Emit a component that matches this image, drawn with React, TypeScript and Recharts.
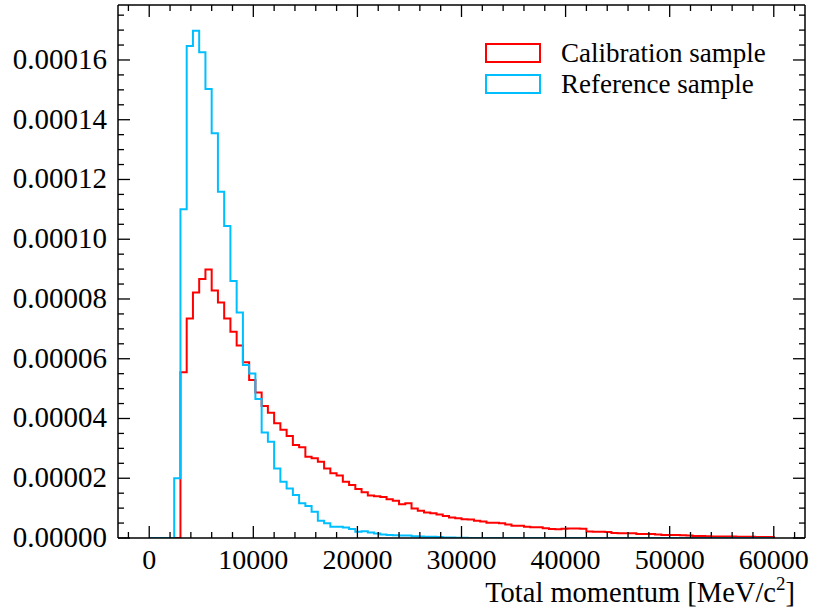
import React from 'react';
import { LineChart, Line, XAxis, YAxis, Legend } from 'recharts';

// histogram: 100 bins of 600 MeV from 0 to 60000
const binStart = 0;
const binWidth = 600;

const calibration = [
  0, 0, 0, 0, 0, 5.55e-5, 7.35e-5, 8.22e-5, 8.67e-5, 8.99e-5,
  8.28e-5, 7.88e-5, 7.35e-5, 6.9e-5, 6.44e-5, 5.88e-5, 5.29e-5, 4.87e-5, 4.42e-5, 4.19e-5,
  3.84e-5, 3.62e-5, 3.41e-5, 3.11e-5, 3.04e-5, 2.72e-5, 2.67e-5, 2.55e-5, 2.33e-5, 2.17e-5,
  2.09e-5, 1.88e-5, 1.77e-5, 1.64e-5, 1.53e-5, 1.42e-5, 1.4e-5, 1.37e-5, 1.3e-5, 1.25e-5,
  1.13e-5, 1.16e-5, 9.9e-6, 9.1e-6, 8.5e-6, 8.3e-6, 7.9e-6, 7.4e-6, 6.9e-6, 6.6e-6,
  6.3e-6, 6.2e-6, 5.8e-6, 5.5e-6, 5.1e-6, 5.1e-6, 4.9e-6, 4.5e-6, 4.1e-6, 4.1e-6,
  3.8e-6, 3.6e-6, 3.6e-6, 3.3e-6, 3.0e-6, 2.9e-6, 3.1e-6, 3.2e-6, 3.2e-6, 3.1e-6,
  2.2e-6, 2.1e-6, 2.1e-6, 2.0e-6, 1.7e-6, 1.6e-6, 1.6e-6, 1.6e-6, 1.3e-6, 1.3e-6,
  1.3e-6, 1.2e-6, 1.0e-6, 1.0e-6, 1.0e-6, 0.9e-6, 0.8e-6, 0.7e-6, 0.7e-6, 0.6e-6,
  0.5e-6, 0.5e-6, 0.5e-6, 0.5e-6, 0.4e-6, 0.4e-6, 0.4e-6, 0.3e-6, 0.3e-6, 0.3e-6,
];

const reference = [
  0, 0, 0, 0, 2.0e-5, 1.1e-4, 1.647e-4, 1.698e-4, 1.626e-4, 1.503e-4,
  1.355e-4, 1.159e-4, 1.044e-4, 8.6e-5, 7.55e-5, 5.79e-5, 5.51e-5, 4.65e-5, 3.53e-5, 3.22e-5,
  2.33e-5, 1.88e-5, 1.66e-5, 1.44e-5, 1.16e-5, 1.07e-5, 8.8e-6, 5.8e-6, 4.9e-6, 3.8e-6,
  3.8e-6, 3.5e-6, 3.0e-6, 2.1e-6, 2.3e-6, 1.8e-6, 1.5e-6, 1.2e-6, 1.0e-6, 0.9e-6,
  0.8e-6, 0.8e-6, 0.6e-6, 0.5e-6, 0.4e-6, 0.4e-6, 0.3e-6, 0.2e-6, 0.2e-6, 0.1e-6,
  0.1e-6, 0, 0, 0, 0, 0, 0, 0, 0, 0,
  0, 0, 0, 0, 0, 0, 0, 0, 0, 0,
  0, 0, 0, 0, 0, 0, 0, 0, 0, 0,
  0, 0, 0, 0, 0, 0, 0, 0, 0, 0,
  0, 0, 0, 0, 0, 0, 0, 0, 0, 0,
];

const xMajorTicks = [0, 10000, 20000, 30000, 40000, 50000, 60000];
const xMinorStep = 2000;
const yMajorTicks = [0, 0.00002, 0.00004, 0.00006, 0.00008, 0.0001, 0.00012, 0.00014, 0.00016];
const yMinorStep = 0.000005;

const xDomain: [number, number] = [-3000, 63000];
const yDomain: [number, number] = [0, 0.0001784];

const FONT = '"Liberation Serif", "DejaVu Serif", "Times New Roman", serif';
const RED = '#ff0000';
const BLUE = '#00bfff';

// step outline: one point per bin edge, closing back down to zero at the end
const n = calibration.length;
const data: { x: number; cal: number; ref: number }[] = [];
for (let i = 0; i < n; i++) {
  data.push({ x: binStart + i * binWidth, cal: calibration[i], ref: reference[i] });
}
data.push({ x: binStart + n * binWidth, cal: calibration[n - 1], ref: reference[n - 1] });
data.push({ x: binStart + n * binWidth, cal: 0, ref: 0 });

const xTicks: number[] = [];
for (let v = -2000; v <= 62000; v += xMinorStep) xTicks.push(v);
const yTicks: number[] = [];
for (let k = 0; k * yMinorStep <= yDomain[1]; k++) yTicks.push(+(k * yMinorStep).toFixed(7));

const isMajorX = (v: number) => xMajorTicks.includes(v);
const isMajorY = (v: number) => yMajorTicks.some((t) => Math.abs(t - v) < 1e-9);

const BottomTick = ({ x, y, payload }: any) => {
  const major = isMajorX(payload.value);
  return (
    <g>
      <line x1={x} x2={x} y1={y} y2={y - (major ? 12 : 6)} stroke="#000" strokeWidth={1.3} />
      {major && (
        <text x={x} y={y + 31} textAnchor="middle" fontFamily={FONT} fontSize={28} fill="#000">
          {payload.value}
        </text>
      )}
    </g>
  );
};

const TopTick = ({ x, y, payload }: any) => {
  const major = isMajorX(payload.value);
  return <line x1={x} x2={x} y1={y} y2={y + (major ? 12 : 6)} stroke="#000" strokeWidth={1.3} />;
};

const LeftTick = ({ x, y, payload }: any) => {
  const major = isMajorY(payload.value);
  return (
    <g>
      <line x1={x} x2={x + (major ? 12 : 6)} y1={y} y2={y} stroke="#000" strokeWidth={1.3} />
      {major && (
        <text x={x - 11} y={y + 9} textAnchor="end" fontFamily={FONT} fontSize={29} fill="#000">
          {payload.value.toFixed(5)}
        </text>
      )}
    </g>
  );
};

const RightTick = ({ x, y, payload }: any) => {
  const major = isMajorY(payload.value);
  return <line x1={x} x2={x - (major ? 12 : 6)} y1={y} y2={y} stroke="#000" strokeWidth={1.3} />;
};

const LegendBox = () => {
  const items = [
    { label: 'Calibration sample', color: RED },
    { label: 'Reference sample', color: BLUE },
  ];
  return (
    <div style={{ fontFamily: FONT }}>
      {items.map((it) => (
        <div key={it.label} style={{ display: 'flex', alignItems: 'center', height: 20, marginBottom: 11 }}>
          <div
            style={{
              width: 56,
              height: 20,
              boxSizing: 'border-box',
              border: `2px solid ${it.color}`,
            }}
          />
          <span style={{ marginLeft: 20, fontSize: 27, lineHeight: '20px', color: '#000', whiteSpace: 'nowrap' }}>
            {it.label}
          </span>
        </div>
      ))}
    </div>
  );
};

const axisLine = { stroke: '#000', strokeWidth: 1.5 };

export default function App() {
  return (
    <div style={{ position: 'absolute', left: 0, top: 0, width: 815, height: 609, background: '#fff' }}>
      <LineChart width={815} height={609} data={data} margin={{ top: 4, right: 9, left: 117, bottom: 70 }}>
        <XAxis
          xAxisId="b"
          dataKey="x"
          type="number"
          domain={xDomain}
          allowDataOverflow
          ticks={xTicks}
          interval={0}
          height={1}
          tickSize={0}
          tickMargin={0}
          tickLine={false}
          axisLine={axisLine}
          tick={<BottomTick />}
        />
        <XAxis
          xAxisId="t"
          orientation="top"
          dataKey="x"
          type="number"
          domain={xDomain}
          allowDataOverflow
          ticks={xTicks}
          interval={0}
          height={1}
          tickSize={0}
          tickMargin={0}
          tickLine={false}
          axisLine={axisLine}
          tick={<TopTick />}
        />
        <YAxis
          yAxisId="l"
          type="number"
          domain={yDomain}
          allowDataOverflow
          ticks={yTicks}
          interval={0}
          width={1}
          tickSize={0}
          tickMargin={0}
          tickLine={false}
          axisLine={axisLine}
          tick={<LeftTick />}
        />
        <YAxis
          yAxisId="r"
          orientation="right"
          type="number"
          domain={yDomain}
          allowDataOverflow
          ticks={yTicks}
          interval={0}
          width={1}
          tickSize={0}
          tickMargin={0}
          tickLine={false}
          axisLine={axisLine}
          tick={<RightTick />}
        />
        <Line
          xAxisId="b"
          yAxisId="l"
          dataKey="cal"
          type="stepAfter"
          stroke={RED}
          strokeWidth={2}
          dot={false}
          activeDot={false}
          isAnimationActive={false}
        />
        <Line
          xAxisId="b"
          yAxisId="l"
          dataKey="ref"
          type="stepAfter"
          stroke={BLUE}
          strokeWidth={2}
          dot={false}
          activeDot={false}
          isAnimationActive={false}
        />
        <Legend
          layout="vertical"
          align="center"
          verticalAlign="middle"
          content={<LegendBox />}
          wrapperStyle={{ left: 485, top: 43, right: 'auto', bottom: 'auto', width: 320 }}
        />
      </LineChart>
      <svg
        width={815}
        height={609}
        style={{ position: 'absolute', left: 0, top: 0, pointerEvents: 'none' }}
      >
        <text x={795} y={602} textAnchor="end" fontFamily={FONT} fontSize={28.5} fill="#000">
          Total momentum [MeV/c
          <tspan fontSize={19} dy={-12}>2</tspan>
          <tspan dy={12}>]</tspan>
        </text>
      </svg>
    </div>
  );
}
